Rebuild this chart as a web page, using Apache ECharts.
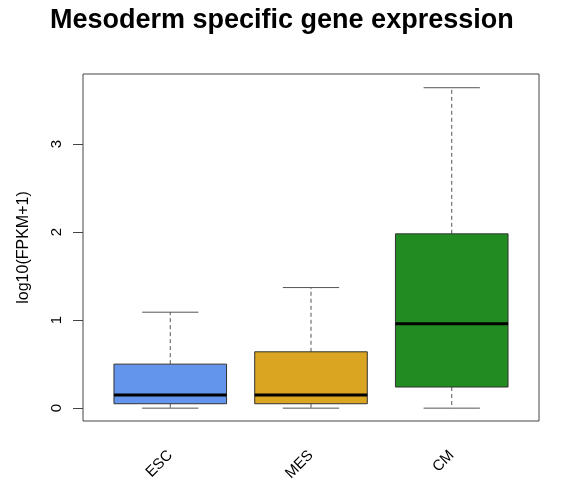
<!DOCTYPE html>
<html>
<head>
<meta charset="utf-8">
<script src="https://cdn.jsdelivr.net/npm/echarts@6/dist/echarts.min.js"></script>
<style>
  html, body { margin: 0; padding: 0; background: #fff; }
  #chart { width: 573px; height: 493px; }
</style>
</head>
<body>
<div id="chart"></div>
<script>
// box statistics
var categories = ['ESC', 'MES', 'CM'];
var positions = [1, 2, 3];
var lowerWhisker = [0, 0, 0];
var q1 = [0.05, 0.05, 0.24];
var median = [0.15, 0.15, 0.96];
var q3 = [0.50, 0.64, 1.98];
var upperWhisker = [1.09, 1.37, 3.64];
var boxColors = ['#6495ED', '#DAA520', '#228B22'];
var yTicks = [0, 1, 2, 3];

var boxData = positions.map(function (p, i) {
  return [p, lowerWhisker[i], q1[i], median[i], q3[i], upperWhisker[i]];
});

var font = 'Liberation Sans, Arial, Helvetica, sans-serif';

function renderBox(params, api) {
  var x = api.value(0);
  var lo = api.coord([x, api.value(1)]);
  var b1 = api.coord([x, api.value(2)]);
  var md = api.coord([x, api.value(3)]);
  var b3 = api.coord([x, api.value(4)]);
  var hi = api.coord([x, api.value(5)]);
  var halfBox = api.size([0.8, 0])[0] / 2;
  var halfCap = api.size([0.4, 0])[0] / 2;
  var cx = lo[0];
  var dash = { stroke: '#555', lineWidth: 1, lineDash: [4, 3] };
  var solid = { stroke: '#555', lineWidth: 1 };
  return {
    type: 'group',
    children: [
      { type: 'line', shape: { x1: cx, y1: b3[1], x2: cx, y2: hi[1] }, style: dash },
      { type: 'line', shape: { x1: cx, y1: b1[1], x2: cx, y2: lo[1] }, style: dash },
      { type: 'line', shape: { x1: cx - halfCap, y1: hi[1], x2: cx + halfCap, y2: hi[1] }, style: solid },
      { type: 'line', shape: { x1: cx - halfCap, y1: lo[1], x2: cx + halfCap, y2: lo[1] }, style: solid },
      {
        type: 'rect',
        shape: { x: cx - halfBox, y: b3[1], width: halfBox * 2, height: b1[1] - b3[1] },
        style: { fill: boxColors[params.dataIndex], stroke: '#333', lineWidth: 1 }
      },
      { type: 'line', shape: { x1: cx - halfBox, y1: md[1], x2: cx + halfBox, y2: md[1] }, style: { stroke: '#000', lineWidth: 3 } }
    ]
  };
}

var myChart = echarts.init(document.getElementById('chart'));
myChart.setOption({
  animation: false,
  title: {
    text: 'Mesoderm specific gene expression',
    left: 45,
    top: 2,
    textStyle: { fontFamily: font, fontSize: 27, fontWeight: 'bold', color: '#000' }
  },
  grid: {
    left: 83, top: 74, width: 456, height: 347,
    show: true, borderColor: '#444', borderWidth: 1, backgroundColor: 'transparent'
  },
  xAxis: {
    type: 'value',
    min: 0.38,
    max: 3.62,
    splitLine: { show: false },
    axisLine: { show: false },
    axisTick: { show: false },
    axisLabel: {
      customValues: positions,
      rotate: 45,
      margin: 32,
      color: '#000',
      fontFamily: font,
      fontSize: 15,
      formatter: function (v) { return categories[Math.round(v) - 1]; }
    }
  },
  yAxis: {
    type: 'value',
    min: -0.146,
    max: 3.796,
    name: 'log10(FPKM+1)',
    nameLocation: 'middle',
    nameGap: 51,
    nameTextStyle: { fontFamily: font, fontSize: 16, color: '#000' },
    splitLine: { show: false },
    axisLine: { show: false },
    axisTick: { show: true, length: 10, customValues: yTicks, lineStyle: { color: '#444' } },
    axisLabel: {
      customValues: yTicks,
      rotate: 90,
      margin: 19,
      color: '#000',
      fontFamily: font,
      fontSize: 15
    }
  },
  series: [{
    type: 'custom',
    renderItem: renderBox,
    data: boxData,
    encode: { x: 0, y: [1, 2, 3, 4, 5] }
  }]
});
</script>
</body>
</html>
